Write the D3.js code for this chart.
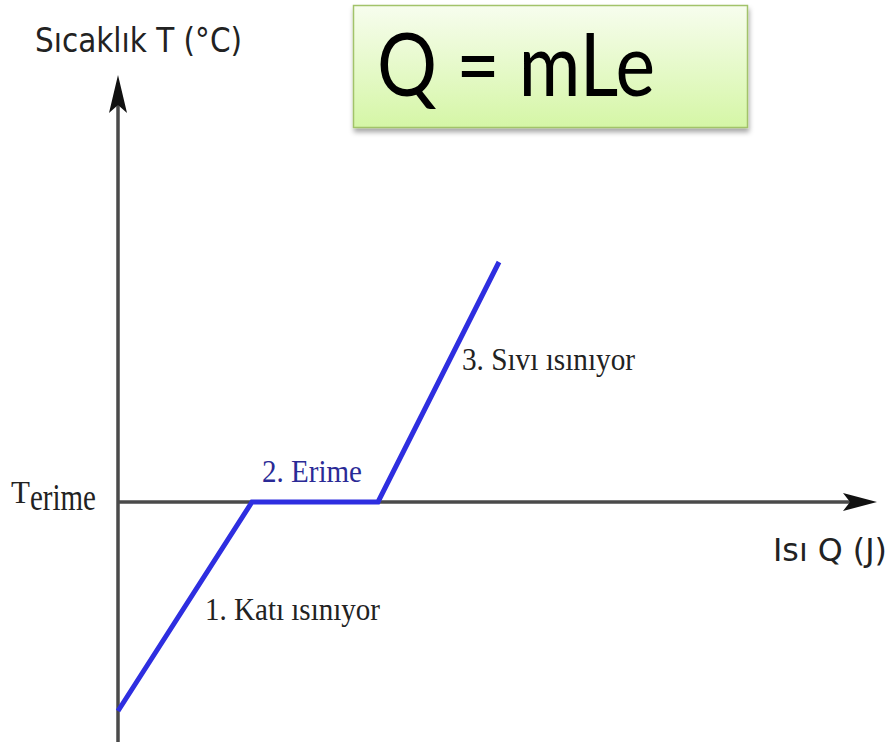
<!DOCTYPE html>
<html>
<head>
<meta charset="utf-8">
<script src="https://cdn.jsdelivr.net/npm/d3@7"></script>
<style>
  body { margin: 0; background: #fff; }
  svg { display: block; }
</style>
</head>
<body>
<svg id="chart"></svg>
<script>
// veriler: ısı (Q) ve sıcaklık (T) kırılma noktaları
var heatQ = [0, 13.4, 26, 38.1]
var tempT = [-20.9, 0, 0, 24]
var phaseLabels = ['1. Katı ısınıyor', '2. Erime', '3. Sıvı ısınıyor']
var axisLabels = ['Sıcaklık T (°C)', 'Isı Q (J)']
var formula = 'Q = mLe'

var W = 889, H = 742

var svg = d3.select('#chart')
    .attr('width', W)
    .attr('height', H)

var x = d3.scaleLinear()
    .domain([0, 75.9])
    .range([118, 877])

var y = d3.scaleLinear()
    .domain([-24, 42.7])
    .range([742, 75])

var defs = svg.append('defs')

var grad = defs.append('linearGradient')
    .attr('id', 'boxgrad')
    .attr('x1', 0).attr('y1', 0).attr('x2', 0).attr('y2', 1)
grad.append('stop').attr('offset', '0%').attr('stop-color', '#f7fdee')
grad.append('stop').attr('offset', '100%').attr('stop-color', '#d5f6a6')

var shadow = defs.append('filter')
    .attr('id', 'shadow')
    .attr('x', '-10%').attr('y', '-10%')
    .attr('width', '120%').attr('height', '130%')
shadow.append('feDropShadow')
    .attr('dx', 1).attr('dy', 4)
    .attr('stdDeviation', 2.5)
    .attr('flood-color', '#000')
    .attr('flood-opacity', 0.35)

// formül kutusu
svg.append('rect')
    .attr('x', 353.5).attr('y', 5.5)
    .attr('width', 394).attr('height', 122)
    .attr('fill', 'url(#boxgrad)')
    .attr('stroke', '#a2c36b')
    .attr('stroke-width', 1.5)
    .attr('filter', 'url(#shadow)')

svg.append('text')
    .attr('x', 377).attr('y', 96)
    .attr('font-family', 'Lato, "Open Sans", sans-serif')
    .attr('font-size', 88)
    .attr('textLength', 278)
    .attr('lengthAdjust', 'spacingAndGlyphs')
    .attr('fill', '#000')
    .text(formula)

// eksenler
var axisColor = '#4a4a4a'
var g = svg.append('g')

g.append('line')
    .attr('x1', x(0)).attr('x2', x(0))
    .attr('y1', H).attr('y2', y.range()[1] + 20)
    .attr('stroke', axisColor)
    .attr('stroke-width', 3.5)

g.append('line')
    .attr('x1', x(0)).attr('x2', x.range()[1] - 20)
    .attr('y1', y(0)).attr('y2', y(0))
    .attr('stroke', axisColor)
    .attr('stroke-width', 3.5)

// ok uçları
var tipY = [x(0), y.range()[1]]
g.append('path')
    .attr('d', 'M' + tipY[0] + ',' + tipY[1] +
        ' L' + (tipY[0] + 9) + ',' + (tipY[1] + 38) +
        ' L' + tipY[0] + ',' + (tipY[1] + 30) +
        ' L' + (tipY[0] - 9) + ',' + (tipY[1] + 38) + ' Z')
    .attr('fill', '#111')

var tipX = [x.range()[1], y(0)]
g.append('path')
    .attr('d', 'M' + tipX[0] + ',' + tipX[1] +
        ' L' + (tipX[0] - 34) + ',' + (tipX[1] - 9) +
        ' L' + (tipX[0] - 27) + ',' + tipX[1] +
        ' L' + (tipX[0] - 34) + ',' + (tipX[1] + 9) + ' Z')
    .attr('fill', '#111')

// eğri
var pts = heatQ.map(function (q, i) { return [q, tempT[i]] })
var line = d3.line()
    .x(function (d) { return x(d[0]) })
    .y(function (d) { return y(d[1]) })

svg.append('path')
    .datum(pts)
    .attr('d', line)
    .attr('fill', 'none')
    .attr('stroke', '#2e2ee0')
    .attr('stroke-width', 5)
    .attr('stroke-linejoin', 'miter')

// eksen yazıları
svg.append('text')
    .attr('x', 35).attr('y', 52)
    .attr('font-family', '"DejaVu Sans", Verdana, sans-serif')
    .attr('font-size', 33)
    .attr('textLength', 207)
    .attr('lengthAdjust', 'spacingAndGlyphs')
    .attr('fill', '#222')
    .text(axisLabels[0])

svg.append('text')
    .attr('x', 773).attr('y', 561)
    .attr('font-family', '"DejaVu Sans", Verdana, sans-serif')
    .attr('font-size', 31.5)
    .attr('textLength', 114)
    .attr('lengthAdjust', 'spacingAndGlyphs')
    .attr('fill', '#222')
    .text(axisLabels[1])

// T erime
var serif = '"Liberation Serif", "Times New Roman", serif'
var te = svg.append('text')
    .attr('font-family', serif)
    .attr('fill', '#222')
te.append('tspan')
    .attr('x', 11).attr('y', y(0) + 1)
    .attr('font-size', 31)
    .text('T')
te.append('tspan')
    .attr('y', y(0) + 8)
    .attr('font-size', 38)
    .attr('textLength', 66)
    .attr('lengthAdjust', 'spacingAndGlyphs')
    .text('erime')

// faz yazıları
svg.append('text')
    .attr('x', 205).attr('y', 620)
    .attr('font-family', serif)
    .attr('font-size', 32)
    .attr('textLength', 175)
    .attr('lengthAdjust', 'spacingAndGlyphs')
    .attr('fill', '#222')
    .text(phaseLabels[0])

svg.append('text')
    .attr('x', 262).attr('y', 482)
    .attr('font-family', serif)
    .attr('font-size', 32)
    .attr('textLength', 100)
    .attr('lengthAdjust', 'spacingAndGlyphs')
    .attr('fill', '#2a2a96')
    .text(phaseLabels[1])

svg.append('text')
    .attr('x', 462).attr('y', 370)
    .attr('font-family', serif)
    .attr('font-size', 32)
    .attr('textLength', 173)
    .attr('lengthAdjust', 'spacingAndGlyphs')
    .attr('fill', '#222')
    .text(phaseLabels[2])
</script>
</body>
</html>
